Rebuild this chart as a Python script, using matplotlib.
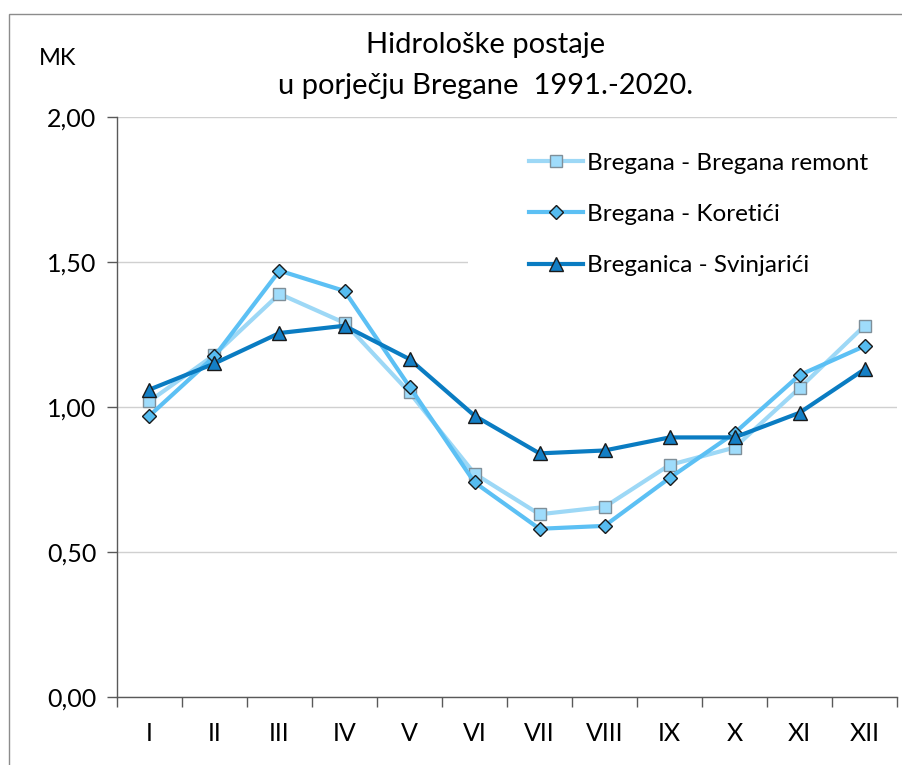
import numpy as np
import matplotlib.pyplot as plt
from matplotlib.patches import Rectangle
from matplotlib.ticker import FixedLocator

plt.rcParams['font.family'] = ['Lato', 'DejaVu Sans']

# monthly flow coefficients (MK), 1991-2020
months = ['I', 'II', 'III', 'IV', 'V', 'VI', 'VII', 'VIII', 'IX', 'X', 'XI', 'XII']
remont = [1.02, 1.18, 1.39, 1.29, 1.05, 0.77, 0.63, 0.655, 0.80, 0.86, 1.065, 1.28]
koretici = [0.97, 1.175, 1.47, 1.40, 1.07, 0.74, 0.58, 0.59, 0.755, 0.91, 1.11, 1.21]
svinjarici = [1.06, 1.15, 1.255, 1.28, 1.165, 0.97, 0.84, 0.85, 0.895, 0.895, 0.98, 1.13]
yticks = [0.0, 0.5, 1.0, 1.5, 2.0]

fig = plt.figure(figsize=(9.02, 7.65), dpi=100)
ax = fig.add_axes([0.1297, 0.0889, 0.8648, 0.7582])

# chart frame
fig.patches.append(Rectangle((0.010, -0.1), 1.2, 1.082, transform=fig.transFigure,
                             fill=False, edgecolor='#8c8c8c', linewidth=1.0))

x = np.arange(len(months))
ax.plot(x, remont, color='#9dd8f6', lw=3.0, marker='s', ms=8.5,
        mfc='#9fdcfb', mec='#7f8f99', mew=1.0, label='Bregana - Bregana remont', zorder=3)
ax.plot(x, koretici, color='#5cc0f4', lw=3.0, marker='D', ms=7.5,
        mfc='#56bcf0', mec='#1a1a1a', mew=1.0, label='Bregana - Koretići', zorder=4)
ax.plot(x, svinjarici, color='#0a7cc2', lw=3.0, marker='^', ms=10,
        mfc='#147fc5', mec='#1a1a1a', mew=1.0, label='Breganica - Svinjarići', zorder=5)

# white legend area over the gridlines
ax.add_patch(Rectangle((0.45, 0.70), 0.55, 0.27, transform=ax.transAxes,
                       facecolor='white', edgecolor='none', zorder=1))

ax.set_xlim(-0.5, 11.5)
ax.set_ylim(0, 2.0)
ax.set_yticks(yticks)
ax.set_yticklabels([f'{v:.2f}'.replace('.', ',') for v in yticks])
ax.set_xticks(x)
ax.set_xticklabels(months)
ax.xaxis.set_minor_locator(FixedLocator(np.arange(-0.5, 12, 1.0)))
ax.tick_params(axis='x', which='major', length=0, pad=18, labelsize=18)
ax.tick_params(axis='x', which='minor', length=7, width=1.0, color='#595959', direction='out')
ax.tick_params(axis='y', length=7, width=1.0, color='#595959', pad=8, labelsize=18)

ax.grid(axis='y', color='#d0d0d0', lw=1.0, zorder=0)
ax.set_axisbelow(True)
for s in ['top', 'right']:
    ax.spines[s].set_visible(False)
for s in ['left', 'bottom']:
    ax.spines[s].set_color('#595959')
    ax.spines[s].set_linewidth(1.0)

fig.text(0.538, 0.941, 'Hidrološke postaje', ha='center', va='center', fontsize=21)
fig.text(0.538, 0.888, 'u porječju Bregane  1991.-2020.', ha='center', va='center', fontsize=21)
fig.text(0.043, 0.924, 'MK', ha='left', va='center', fontsize=17)

leg = ax.legend(loc='upper left', bbox_to_anchor=(0.565, 0.826), bbox_transform=fig.transFigure,
                frameon=False, fontsize=17.5, handlelength=2.2, handletextpad=0.2,
                labelspacing=1.25, borderpad=0.3)
leg.set_zorder(6)

fig.savefig('out.png', dpi=100, facecolor='white')
